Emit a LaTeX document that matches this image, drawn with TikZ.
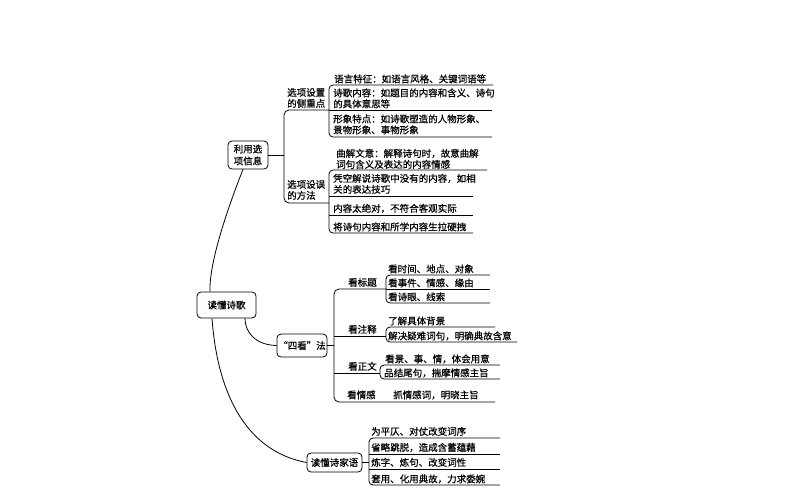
\documentclass[tikz,border=0pt]{standalone}
\usepackage{fontspec}
\setmainfont{Noto Sans CJK SC}[UprightFeatures={FakeBold=0.6}]
\begin{document}
\begin{tikzpicture}[x=1pt,y=-1pt,
  ln/.style={line width=0.8pt, black},
  box/.style={draw, line width=0.8pt, rounded corners=4pt, inner sep=1pt, align=center, font=\fontsize{9.5}{12}\selectfont},
  txt/.style={anchor=base west, inner sep=0pt, font=\fontsize{9.5}{11}\selectfont}]
\useasboundingbox[fill=white] (0,0) rectangle (794,495);

% main boxes
\node[box, minimum width=40pt, minimum height=28pt] (ly) at (248,155) {利用选\\项信息};
\node[box, minimum width=59pt, minimum height=26pt] (root) at (226.5,305) {读懂诗歌};
\node[box, minimum width=50pt, minimum height=23pt] (sk) at (302,345.5) {“四看”法};
\node[box, minimum width=55pt, minimum height=19pt] (jy) at (334.5,462.5) {读懂诗家语};

% curves from root
\draw[ln] ([xshift=-16.5pt]root.north) .. controls (209,265) and (225,215) .. ([xshift=-5pt]ly.south);
\draw[ln] ([xshift=18.5pt]root.south) .. controls (245,332) and (255,345) .. (sk.west);
\draw[ln] ([xshift=-14.5pt]root.south) .. controls (218,400) and (250,452) .. (jy.west);

% ---------- upper section ----------
\coordinate (b1) at (284,155);
\draw[ln] (ly.east) -- (b1);
\draw[ln, rounded corners=5pt] (329,110) -- (284,110) -- (284,203) -- (329,203);
\node[txt] (s1a) at (287,96) {选项设置};
\node[txt] (s1b) at (287,107) {的侧重点};
\node[txt] (s2a) at (287,188) {选项设误};
\node[txt] (s2b) at (287,199) {的方法};

\draw[ln, rounded corners=4pt] (493,85) -- (329,85) -- (329,137) -- (492,137);
\draw[ln] (329,110) -- (492,110);
\node[txt] (t1) at (334,82.5) {语言特征：如语言风格、关键词语等};
\node[txt] (t2a) at (333,96.5) {诗歌内容：如题目的内容和含义、诗句};
\node[txt] (t2b) at (333,107.5) {的具体意思等};
\node[txt] (t3a) at (333,122.5) {形象特点：如诗歌塑造的人物形象、};
\node[txt] (t3b) at (333,133.5) {景物形象、事物形象};

\draw[ln, rounded corners=4pt] (487,170) -- (329,170) -- (329,233) -- (473,233);
\draw[ln] (329,196) -- (473,196);
\draw[ln] (329,215) -- (473,215);
\node[txt] (t4a) at (336,157) {曲解文意：解释诗句时，故意曲解};
\node[txt] (t4b) at (336,168) {词句含义及表达的内容情感};
\node[txt] (t5a) at (333,182) {凭空解说诗歌中没有的内容，如相};
\node[txt] (t5b) at (333,193) {关的表达技巧};
\node[txt] (t6) at (333,212) {内容太绝对，不符合客观实际};
\node[txt] (t7) at (333,230.5) {将诗句内容和所学内容生拉硬拽};

% ---------- middle section ----------
\draw[ln] (sk.east) -- (334,345.5);
\draw[ln, rounded corners=5pt] (386,289) -- (334,289) -- (334,402) -- (495,402);
\draw[ln] (334,336) -- (386,336);
\draw[ln] (334,373) -- (380,373);
\node[txt] (k1) at (348,286) {看标题};
\node[txt] (k2) at (348,333) {看注释};
\node[txt] (k3) at (348,370) {看正文};
\node[txt] (k4) at (347,398.5) {看情感};

\draw[ln, rounded corners=4pt] (490,275) -- (386,275) -- (386,303) -- (490,303);
\draw[ln] (386,289) -- (490,289);
\node[txt] (k1a) at (388,272.5) {看时间、地点、对象};
\node[txt] (k1b) at (388,286.5) {看事件、情感、缘由};
\node[txt] (k1c) at (388,300.5) {看诗眼、线索};

\draw[ln, rounded corners=4pt] (495,327) -- (386,327) -- (386,342) -- (517,342);
\node[txt] (k2a) at (388,324.5) {了解具体背景};
\node[txt] (k2b) at (388,339.5) {解决疑难词句，明确典故含意};

\draw[ln, rounded corners=4pt] (500,365) -- (380,365) -- (380,379) -- (500,379);
\node[txt] (k3a) at (385,362.5) {看景、事、情，体会用意};
\node[txt] (k3b) at (384,376.5) {品结尾句，揣摩情感主旨};

\node[txt] (k4a) at (393,398.5) {抓情感词，明晓主旨};

% ---------- bottom section ----------
\draw[ln] (jy.east) -- (369,462.5);
\draw[ln, rounded corners=4pt] (500,438) -- (369,438) -- (369,485) -- (500,485);
\draw[ln] (369,454) -- (500,454);
\draw[ln] (369,469) -- (500,469);
\node[txt] (j1) at (371,435) {为平仄、对仗改变词序};
\node[txt] (j2) at (371,451) {省略跳脱，造成含蓄蕴藉};
\node[txt] (j3) at (371,466) {炼字、炼句、改变词性};
\node[txt] (j4) at (371,482.5) {套用、化用典故，力求委婉};
\end{tikzpicture}
\end{document}
